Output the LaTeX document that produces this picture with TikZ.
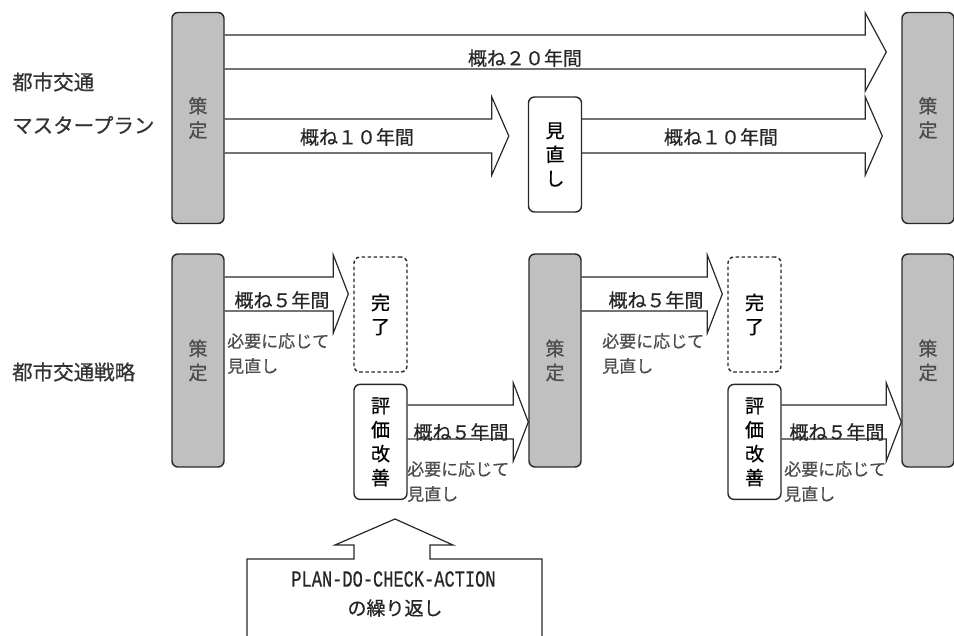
\documentclass[tikz,border=0pt]{standalone}
\usepackage{fontspec}
\setmainfont{Noto Sans CJK JP}[FakeBold=0.6]
\newfontfamily\monofont{Liberation Mono}[FakeBold=0.6]
\usepackage{graphicx}
\usetikzlibrary{positioning,calc}

\definecolor{plangray}{RGB}{192,192,192}
\definecolor{ink}{RGB}{40,40,40}

\newcommand{\rowfont}{\fontsize{20.5}{25}\selectfont}
\newcommand{\spanfont}{\fontsize{19}{23}\selectfont}
\newcommand{\notefont}{\fontsize{17}{25}\selectfont}
\newcommand{\boxfont}{\fontsize{19}{24}\selectfont}

\tikzstyle{plan} = [rectangle, rounded corners=6pt, minimum width=52pt, minimum height=211pt, inner sep=0pt, align=center, draw=ink, line width=1.4pt, fill=plangray, text=black!70, font=\boxfont]
\tikzstyle{review} = [rectangle, rounded corners=6pt, minimum width=53pt, minimum height=115pt, inner sep=0pt, align=center, draw=ink, line width=1.4pt, fill=white, font=\boxfont]
\tikzstyle{done} = [review, dash pattern=on 3.5pt off 2.5pt]
\tikzstyle{fat} = [draw=ink, line width=1.2pt, line join=miter]
\tikzstyle{spanlabel} = [font=\spanfont, inner sep=0pt, text=black!85]
\tikzstyle{note} = [font=\notefont, align=left, anchor=north west, inner sep=0pt, text=black!70]
\tikzstyle{rowlabel} = [font=\rowfont, anchor=west, inner sep=0pt, text=black!80]

% wide hollow arrow: [head length]{from}{tip}
\newcommand{\fatarrow}[3][17]{%
  \draw [fat] let \p1 = (#2), \p2 = (#3) in
    (\x1,\y1+17pt) -- (\x2-#1pt,\y1+17pt) -- (\x2-#1pt,\y1+39pt) -- (\x2,\y1)
    -- (\x2-#1pt,\y1-39pt) -- (\x2-#1pt,\y1-17pt) -- (\x1,\y1-17pt);}

\begin{document}
\begin{tikzpicture}[x=1pt, y=-1pt]

	\useasboundingbox (0,0) rectangle (954,636);

	% rows of the arrows
	\coordinate (y20) at (0,52);
	\coordinate (y10) at (0,136);
	\coordinate (y5a) at (0,294);
	\coordinate (y5b) at (0,422);

	% master plan
	\node (masterA) [rowlabel] at (12,82) {都市交通};
	\node (masterB) [rowlabel] at (12,125) {マスタープラン};
	\node (planA) [plan] at (198,118) {策\\定};
	\node (midTop) [review] at (555,154.5) {見\\直\\し};
	\node (planB) [plan] at (928,118) {策\\定};

	\fatarrow[21]{planA.east |- y20}{$(planB.west |- y20)+(-15,0)$}
	\fatarrow{planA.east |- y10}{$(midTop.west |- y10)+(-19,0)$}
	\fatarrow{midTop.east |- y10}{$(planB.west |- y10)+(-19,0)$}

	\node (t20) [spanlabel] at (525,58) {概ね２０年間};
	\node (t10a) [spanlabel] at (357,137) {概ね１０年間};
	\node (t10b) [spanlabel] at (721,137) {概ね１０年間};

	% strategy
	\node (strategy) [rowlabel] at (12,372) {都市交通戦略};
	\node (planC) [plan, minimum height=213pt] at (198,360.5) {策\\定};
	\node (planD) [plan, minimum height=213pt] at (555,360.5) {策\\定};
	\node (planE) [plan, minimum height=213pt] at (928,360.5) {策\\定};
	\node (doneA) [done] at (380.5,314.5) {完\\了};
	\node (evalA) [review, below=11pt of doneA] {評\\価\\改\\善};
	\node (doneB) [done] at (754.5,314.5) {完\\了};
	\node (evalB) [review, below=11pt of doneB] {評\\価\\改\\善};

	\fatarrow[15]{planC.east |- y5a}{$(doneA.west |- y5a)+(-5,0)$}
	\fatarrow[15]{evalA.east |- y5b}{planD.west |- y5b}
	\fatarrow[15]{planD.east |- y5a}{$(doneB.west |- y5a)+(-5,0)$}
	\fatarrow[15]{evalB.east |- y5b}{planE.west |- y5b}

	\node (t5a) [spanlabel] at (282,300) {概ね５年間};
	\node (t5b) [spanlabel] at (461,432) {概ね５年間};
	\node (t5c) [spanlabel] at (656,300) {概ね５年間};
	\node (t5d) [spanlabel] at (837,432) {概ね５年間};

	\node (noteA) [note] at (227,333) {必要に応じて\\見直し};
	\node (noteB) [note] at (407,461) {必要に応じて\\見直し};
	\node (noteC) [note] at (602,333) {必要に応じて\\見直し};
	\node (noteD) [note] at (784,461) {必要に応じて\\見直し};

	% PDCA box
	\draw [fat] (247,640) -- (247,559) -- (354,559) -- (354,545) -- (335,545) -- (395,519)
		-- (453,545) -- (430,545) -- (430,559) -- (542,559) -- (542,640);
	\node (pdcaTop) [inner sep=0pt, text=black!85] at (393.5,579) {\monofont\fontsize{23}{25}\selectfont\scalebox{0.74}[1]{PLAN-DO-CHECK-ACTION}};
	\node (pdcaBot) [spanlabel] at (395,608) {の繰り返し};

\end{tikzpicture}
\end{document}
